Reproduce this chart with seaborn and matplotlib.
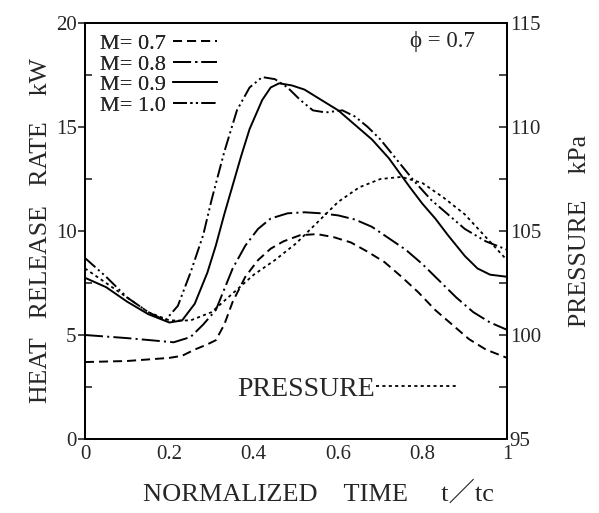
import numpy as np
import pandas as pd
import matplotlib
matplotlib.use("Agg")
import matplotlib.pyplot as plt
import seaborn as sns

sns.set_style("white")
plt.rcParams['font.family'] = ['Liberation Serif', 'DejaVu Serif', 'Noto Sans CJK JP']
plt.rcParams['lines.scale_dashes'] = False

# ---- data ----
x_m07 = [0.00, 0.10, 0.20, 0.23, 0.26, 0.29, 0.31, 0.33, 0.35, 0.38, 0.41, 0.44, 0.47, 0.51,
         0.55, 0.59, 0.63, 0.67, 0.71, 0.75, 0.79, 0.83, 0.87, 0.91, 0.95, 1.00]
y_m07 = [3.7, 3.75, 3.9, 4.0, 4.3, 4.55, 4.75, 5.5, 6.6, 7.8, 8.6, 9.15, 9.5, 9.8,
         9.85, 9.7, 9.45, 9.0, 8.5, 7.8, 7.05, 6.2, 5.5, 4.8, 4.3, 3.9]

x_m08 = [0.00, 0.10, 0.21, 0.25, 0.28, 0.31, 0.33, 0.35, 0.38, 0.41, 0.44, 0.48, 0.52, 0.56,
         0.60, 0.64, 0.68, 0.72, 0.76, 0.80, 0.84, 0.88, 0.92, 0.96, 1.00]
y_m08 = [5.0, 4.85, 4.65, 4.9, 5.5, 6.2, 7.2, 8.2, 9.3, 10.1, 10.6, 10.85, 10.9, 10.85,
         10.75, 10.55, 10.2, 9.65, 9.1, 8.4, 7.6, 6.8, 6.1, 5.6, 5.25]

x_m09 = [0.00, 0.05, 0.10, 0.15, 0.20, 0.23, 0.26, 0.29, 0.31, 0.33, 0.35, 0.37, 0.39, 0.42,
         0.44, 0.46, 0.49, 0.52, 0.56, 0.60, 0.64, 0.68, 0.72, 0.77, 0.80, 0.83, 0.86, 0.90,
         0.93, 0.96, 1.00]
y_m09 = [7.75, 7.3, 6.6, 6.0, 5.6, 5.7, 6.5, 8.0, 9.3, 10.8, 12.2, 13.6, 14.9, 16.3,
         16.9, 17.1, 17.0, 16.8, 16.3, 15.8, 15.1, 14.4, 13.5, 12.1, 11.3, 10.6, 9.8, 8.8,
         8.2, 7.9, 7.8]

x_m10 = [0.00, 0.05, 0.10, 0.15, 0.19, 0.22, 0.25, 0.28, 0.30, 0.33, 0.36, 0.39, 0.42, 0.45,
         0.48, 0.51, 0.54, 0.57, 0.61, 0.64, 0.67, 0.70, 0.74, 0.78, 0.82, 0.86, 0.90, 0.95, 1.00]
y_m10 = [8.7, 7.8, 6.8, 6.1, 5.7, 6.4, 8.0, 9.8, 11.5, 13.8, 15.8, 16.9, 17.4, 17.3,
         16.9, 16.3, 15.8, 15.7, 15.8, 15.5, 15.0, 14.4, 13.4, 12.4, 11.5, 10.8, 10.1, 9.5, 9.1]

x_p = [0.00, 0.05, 0.10, 0.15, 0.20, 0.25, 0.30, 0.35, 0.40, 0.45, 0.50, 0.55, 0.60, 0.65,
       0.70, 0.75, 0.80, 0.85, 0.90, 0.95, 1.00]
y_p = [103.2, 102.5, 101.8, 101.1, 100.7, 100.7, 101.1, 102.0, 102.9, 103.6, 104.4, 105.4,
       106.4, 107.1, 107.5, 107.6, 107.3, 106.6, 105.8, 104.7, 103.6]

labels = ["M= 0.7", "M= 0.8", "M= 0.9", "M= 1.0"]
xticks = [0, 0.2, 0.4, 0.6, 0.8, 1]
xticklabels = ["0", "0.2", "0.4", "0.6", "0.8", "1"]
yticks_l = [0, 5, 10, 15, 20]
yticks_r = [95, 100, 105, 110, 115]

# ---- styles ----
styles = [
    (0, (6.5, 3.6)),
    (0, (13, 3, 1.5, 3)),
    '-',
    (0, (10, 2.5, 1.5, 2.5, 1.5, 2.5)),
]
p_style = (0, (2.2, 2.4))

fig = plt.figure(figsize=(5.99, 5.13), dpi=100)
ax = fig.add_axes([85/599, 1-439/513, 422/599, 416/513])
ax2 = ax.twinx()

series = [(x_m07, y_m07), (x_m08, y_m08), (x_m09, y_m09), (x_m10, y_m10)]
for (xs, ys), lab, ls in zip(series, labels, styles):
    df = pd.DataFrame({"t": xs, "q": ys})
    sns.lineplot(data=df, x="t", y="q", ax=ax, color="black", lw=1.4,
                 linestyle=ls, label=lab)

dfp = pd.DataFrame({"t": x_p, "p": y_p})
sns.lineplot(data=dfp, x="t", y="p", ax=ax2, color="black", lw=1.3,
             linestyle=p_style, label="PRESSURE")

ax.set_xlim(0, 1)
ax.set_ylim(0, 20)
ax2.set_ylim(95, 115)

ax.set_xticks(xticks)
ax.set_xticklabels(xticklabels)
ax.set_xticks(np.arange(0, 1.01, 0.1), minor=True)
ax.set_yticks(yticks_l)
ax.set_yticks(np.arange(0, 20.1, 2.5), minor=True)
ax2.set_yticks(yticks_r)
ax2.set_yticks(np.arange(95, 115.1, 2.5), minor=True)

for a in (ax, ax2):
    for s in a.spines.values():
        s.set_color("black")
        s.set_linewidth(1.3)

ax.tick_params(axis='x', which='both', direction='in', length=6, width=1.2,
               labelsize=15, pad=4, top=False)
ax.tick_params(axis='y', which='major', direction='out', length=5, width=1.2,
               labelsize=15, pad=1)
ax.tick_params(axis='y', which='minor', direction='in', length=5, width=1.2)
ax2.tick_params(axis='y', which='both', direction='in', length=6, width=1.2,
                labelsize=15, pad=2)

ax.set_xlabel("NORMALIZED    TIME     t／tc", fontsize=19)
ax.xaxis.set_label_coords((319 - 85) / 422, -(481 - 439) / 416, transform=ax.transAxes)
ax.set_ylabel("HEAT   RELEASE   RATE    kW", fontsize=18.5, labelpad=3)
ax2.set_ylabel("PRESSURE    kPa", fontsize=18.5, labelpad=20)

leg = ax.legend(loc='upper left', bbox_to_anchor=(0.036, 0.975), frameon=False,
                markerfirst=False, handlelength=2.0, handletextpad=0.3,
                labelspacing=0.0, fontsize=16, borderpad=0, borderaxespad=0)
ax2.legend(loc='lower left', bbox_to_anchor=(0.36, 0.09), frameon=False,
           markerfirst=False, handlelength=2.9, handletextpad=0.05,
           fontsize=20, borderpad=0, borderaxespad=0)
ax.add_artist(leg)

ax.text(0.77, 0.955, "ϕ = 0.7", transform=ax.transAxes, fontsize=16.5,
        ha='left', va='center')

fig.savefig("out.png", dpi=100)
